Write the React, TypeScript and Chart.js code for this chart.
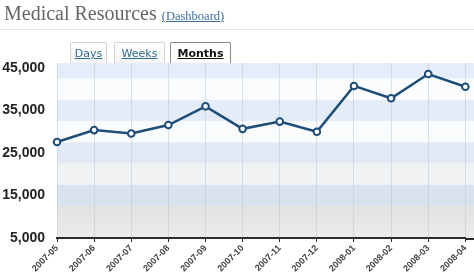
import React, { useEffect, useRef } from "react";
import { Chart, registerables } from "chart.js";

Chart.register(...registerables);

const categories = [
  "2007-05", "2007-06", "2007-07", "2007-08", "2007-09", "2007-10",
  "2007-11", "2007-12", "2008-01", "2008-02", "2008-03", "2008-04",
];
const resources = [27600, 30400, 29600, 31600, 36000, 30700, 32400, 30000, 40800, 37900, 43600, 40600];
const yTickValues = [5000, 15000, 25000, 35000, 45000];
const bandEdges = [46200, 42500, 37500, 32500, 27500, 22500, 17500, 12500, 5000];
const bandColors = ["#e4edf9", "#fbfcfe", "#e4ecf8", "#f9fbfd", "#e2e9f5", "#f1f2f4", "#d9e2ef", "#e6e6e6"];
const tabs = ["Days", "Weeks", "Months"];

const bandsPlugin = {
  id: "bands",
  beforeDraw(chart: any) {
    const { ctx, chartArea, scales, width } = chart;
    const y = scales.y;
    ctx.save();
    for (let i = 0; i < bandColors.length; i++) {
      const top = y.getPixelForValue(bandEdges[i]);
      const bottom = y.getPixelForValue(bandEdges[i + 1]);
      if (i === bandColors.length - 1) {
        const g = ctx.createLinearGradient(0, top, 0, bottom);
        g.addColorStop(0, "#e2e2e2");
        g.addColorStop(1, "#ececec");
        ctx.fillStyle = g;
      } else {
        ctx.fillStyle = bandColors[i];
      }
      ctx.fillRect(chartArea.left, top, width - chartArea.left, bottom - top);
    }
    ctx.restore();
  },
  afterDraw(chart: any) {
    const { ctx, chartArea, width } = chart;
    ctx.save();
    ctx.strokeStyle = "#2a2a2a";
    ctx.lineWidth = 2;
    ctx.beginPath();
    ctx.moveTo(chartArea.right, chartArea.bottom + 1);
    ctx.lineTo(width, chartArea.bottom + 1);
    ctx.stroke();
    ctx.restore();
  },
};

function LineChart() {
  const ref = useRef<HTMLCanvasElement>(null);
  useEffect(() => {
    if (!ref.current) return;
    const chart = new Chart(ref.current, {
      type: "line",
      data: {
        labels: categories,
        datasets: [
          {
            data: resources,
            borderColor: "#1e4d78",
            borderWidth: 2.5,
            pointRadius: 3.3,
            pointBorderWidth: 2,
            pointBackgroundColor: "#ffffff",
            pointBorderColor: "#1e4d78",
            tension: 0,
          },
        ],
      },
      options: {
        responsive: false,
        animation: false,
        layout: { padding: { left: 0, top: 63, right: 1.5, bottom: 0 } },
        plugins: { legend: { display: false }, tooltip: { enabled: false } },
        scales: {
          x: {
            offset: false,
            grid: {
              color: "rgba(185,200,222,0.55)",
              tickColor: "#2a2a2a",
              tickLength: 4,
              lineWidth: 1,
            },
            border: { color: "#2a2a2a", width: 2 },
            ticks: {
              autoSkip: false,
              minRotation: 45,
              maxRotation: 45,
              padding: 1,
              color: "#444",
              font: { family: "Liberation Sans, Arial", size: 9, weight: "bold" },
            },
            afterFit: (s: any) => {
              s.height = 36;
            },
          },
          y: {
            min: 5000,
            max: 46200,
            afterBuildTicks: (s: any) => {
              s.ticks = yTickValues.map((v) => ({ value: v }));
            },
            grid: { display: false },
            border: { display: false },
            ticks: {
              padding: 4,
              color: "#222",
              font: { family: "Liberation Sans, Arial", size: 14, weight: "bold" },
              callback: (v: any) => Number(v).toLocaleString("en-US"),
            },
            afterFit: (s: any) => {
              s.width = 57;
            },
          },
        },
      } as any,
      plugins: [bandsPlugin],
    });
    return () => chart.destroy();
  }, []);
  return <canvas ref={ref} width={474} height={274} style={{ position: "absolute", left: 0, top: 0 }} />;
}

const tabBoxes = [
  { left: 70, width: 37 },
  { left: 114, width: 51 },
  { left: 170, width: 61 },
];

export default function App() {
  return (
    <div style={{ position: "fixed", left: 0, top: 0, width: 474, height: 274, overflow: "hidden", background: "#fff" }}>
      <LineChart />
      <div
        style={{
          position: "absolute",
          left: 4,
          top: 3,
          fontFamily: "Liberation Serif, Times New Roman, serif",
          fontSize: 20,
          lineHeight: "20px",
          color: "#666",
          whiteSpace: "nowrap",
        }}
      >
        Medical Resources{" "}
        <span style={{ fontSize: 12.5, color: "#3b6e9c", textDecoration: "underline" }}>(Dashboard)</span>
      </div>
      <div style={{ position: "absolute", left: 0, top: 29, width: 474, height: 1, background: "#e2e2e2" }} />
      {tabs.map((t, i) => {
        const active = i === tabs.length - 1;
        return (
          <div
            key={t}
            style={{
              position: "absolute",
              left: tabBoxes[i].left,
              top: 42,
              width: tabBoxes[i].width,
              height: 21,
              boxSizing: "border-box",
              border: `1px solid ${active ? "#8a8a8a" : "#d2d2d2"}`,
              borderBottom: "none",
              borderRadius: "2px 2px 0 0",
              background: active ? "#fff" : "linear-gradient(#ffffff, #f4f4f4)",
              textAlign: "center",
              fontFamily: "DejaVu Sans, Verdana, sans-serif",
              fontSize: 11,
              lineHeight: "21px",
              fontWeight: active ? "bold" : "normal",
              color: active ? "#111" : "#2e6d8c",
              textDecoration: "underline",
            }}
          >
            {t}
          </div>
        );
      })}
    </div>
  );
}
